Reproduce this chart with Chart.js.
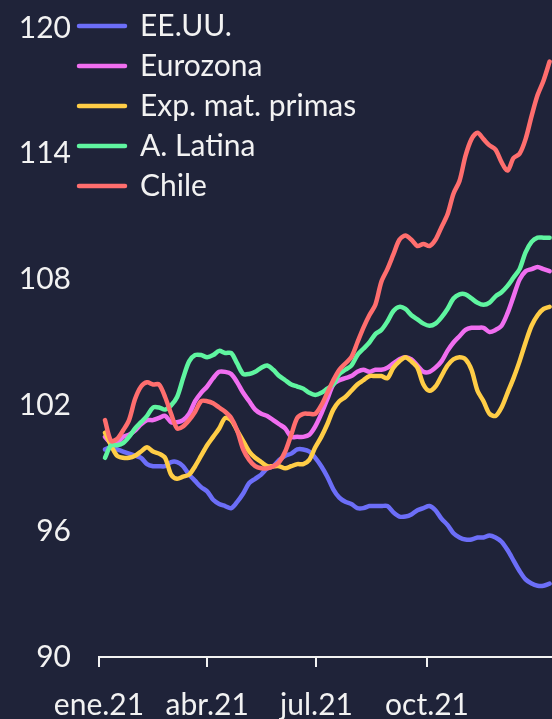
<!DOCTYPE html>
<html lang="es">
<head>
<meta charset="UTF-8">
<title>Índices de acciones</title>
<script src="https://cdn.jsdelivr.net/npm/chart.js"></script>
<style>
  html, body { margin: 0; padding: 0; background: #1f2339; }
  #wrap { width: 552px; height: 719px; }
</style>
</head>
<body>
<div id="wrap"><canvas id="grafico" width="552" height="719"></canvas></div>
<script>
// días transcurridos desde el 1 de enero de 2021
const dias = [5,10,15,20,25,30,35,40,45,50,55,60,65,70,75,80,85,90,95,100,
  105,110,115,120,125,130,135,140,145,150,155,160,165,170,175,180,185,190,195,200,
  205,210,215,220,225,230,235,240,245,250,255,260,265,270,275,280,285,290,295,300,
  305,310,315,320,325,330,335,340,345,350,355,360,365,370,375];

const eeuu = [99.9,100.0,99.9,99.8,99.7,99.6,99.5,99.2,99.1,99.1,
  99.1,99.3,99.3,99.1,98.7,98.4,98.1,97.9,97.5,97.3,
  97.2,97.1,97.4,97.8,98.3,98.5,98.7,99.0,99.1,99.4,
  99.6,99.7,99.9,99.9,99.8,99.5,99.1,98.6,98.0,97.6,
  97.4,97.3,97.1,97.1,97.2,97.2,97.2,97.2,96.9,96.7,
  96.7,96.8,97.0,97.1,97.2,97.0,96.6,96.3,95.9,95.7,
  95.6,95.6,95.7,95.7,95.8,95.7,95.5,95.1,94.6,94.1,
  93.7,93.5,93.4,93.4,93.5];

const eurozona = [100.5,100.2,100.2,100.5,100.6,100.8,101.1,101.3,101.3,101.4,
  101.5,101.2,101.2,101.3,101.6,102.2,102.6,102.9,103.3,103.6,
  103.6,103.5,103.1,102.6,102.2,101.8,101.6,101.5,101.3,101.1,
  100.9,100.5,100.5,100.5,100.6,101.0,101.6,102.3,103.0,103.2,
  103.3,103.4,103.6,103.7,103.6,103.7,103.7,103.8,104.0,104.2,
  104.3,104.2,103.9,103.6,103.6,103.8,104.1,104.6,105.0,105.3,
  105.6,105.7,105.7,105.7,105.5,105.6,105.8,106.4,107.2,108.0,
  108.4,108.5,108.6,108.5,108.4];

const matPrimas = [100.7,100.1,99.6,99.5,99.5,99.6,99.8,100.0,99.8,99.7,
  99.5,98.7,98.5,98.6,98.7,99.1,99.6,100.1,100.5,100.9,
  101.4,101.3,100.8,100.3,99.8,99.5,99.3,99.1,99.1,99.1,
  99.0,99.1,99.2,99.2,99.4,100.0,100.5,101.1,101.8,102.2,
  102.4,102.7,103.0,103.2,103.4,103.4,103.4,103.3,103.8,104.1,
  104.3,104.1,103.8,103.0,102.7,102.9,103.4,103.9,104.2,104.3,
  104.2,103.7,102.7,102.2,101.6,101.5,101.9,102.6,103.3,104.1,
  105.0,105.8,106.3,106.6,106.7];

const latina = [99.5,100.1,100.1,100.2,100.5,100.9,101.2,101.5,101.9,101.9,
  101.8,102.0,102.4,103.3,104.1,104.4,104.4,104.3,104.4,104.6,
  104.5,104.5,104.0,103.5,103.5,103.6,103.8,103.9,103.7,103.4,
  103.2,103.0,102.9,102.8,102.6,102.5,102.6,102.8,103.0,103.5,
  103.7,103.9,104.4,104.7,105.0,105.4,105.6,106.0,106.5,106.7,
  106.6,106.3,106.1,105.9,105.8,105.9,106.2,106.6,107.1,107.3,
  107.3,107.1,106.9,106.8,106.9,107.2,107.4,107.7,108.1,108.5,
  109.3,109.8,110.0,110.0,110.0];

const chile = [101.3,100.3,100.4,100.8,101.3,102.3,102.9,103.1,103.0,103.0,
  102.4,101.6,100.9,101.0,101.3,101.7,102.2,102.2,102.1,101.9,
  101.7,101.4,100.8,99.9,99.4,99.1,99.0,99.0,99.1,99.3,
  99.8,100.6,101.4,101.6,101.6,101.6,102.0,102.6,103.2,103.7,
  104.0,104.3,105.0,105.7,106.3,106.8,107.9,108.5,109.2,109.9,
  110.1,109.9,109.6,109.7,109.6,109.9,110.5,111.1,112.1,112.7,
  113.9,114.7,115.0,114.7,114.4,114.2,113.6,113.2,113.8,114.0,
  114.7,115.8,116.8,117.5,118.4];

const tickDias = [0, 90, 181, 273];
const tickEtiquetas = ['ene.21', 'abr.21', 'jul.21', 'oct.21'];

const puntos = serie => dias.map((d, i) => ({ x: d, y: serie[i] }));

Chart.defaults.font.family = 'Lato';
Chart.defaults.font.size = 30;
Chart.defaults.color = '#f2f2f2';

// la leyenda va encima del área del gráfico, algo a la izquierda
const moverLeyenda = {
  id: 'moverLeyenda',
  afterLayout(chart) {
    chart.legend.left = 69;
    chart.legend.top = 1;
  }
};

new Chart(document.getElementById('grafico'), {
  type: 'line',
  data: {
    datasets: [
      { label: 'EE.UU.', data: puntos(eeuu), borderColor: '#6c6ef8', backgroundColor: '#6c6ef8', order: 4 },
      { label: 'Eurozona', data: puntos(eurozona), borderColor: '#f06ef0', backgroundColor: '#f06ef0', order: 3 },
      { label: 'Exp. mat. primas', data: puntos(matPrimas), borderColor: '#ffcd46', backgroundColor: '#ffcd46', order: 2 },
      { label: 'A. Latina', data: puntos(latina), borderColor: '#5ff5a0', backgroundColor: '#5ff5a0', order: 1 },
      { label: 'Chile', data: puntos(chile), borderColor: '#ff6e6e', backgroundColor: '#ff6e6e', order: 0 }
    ]
  },
  options: {
    responsive: false,
    animation: false,
    devicePixelRatio: 1,
    layout: { padding: { top: 28, right: 0, bottom: 0, left: 0 } },
    elements: {
      point: { radius: 0 },
      line: { borderWidth: 4.5, tension: 0.3, borderCapStyle: 'round', borderJoinStyle: 'round' }
    },
    plugins: {
      tooltip: { enabled: false },
      legend: {
        position: 'chartArea',
        align: 'start',
        labels: {
          usePointStyle: true,
          pointStyle: 'line',
          pointStyleWidth: 46,
          padding: 10,
          generateLabels: chart => Chart.defaults.plugins.legend.labels.generateLabels(chart)
            .map(it => ({ ...it, lineWidth: 4.5, lineCap: 'round' })),
          sort: (a, b) => a.datasetIndex - b.datasetIndex
        }
      }
    },
    scales: {
      x: {
        type: 'linear',
        min: 0,
        max: 377,
        afterBuildTicks: s => { s.ticks = tickDias.map(v => ({ value: v })); },
        afterFit: s => { s.height = 62; },
        grid: { display: true, drawOnChartArea: false, drawTicks: true, tickLength: 10, color: '#f2f2f2', lineWidth: 2 },
        border: { display: true, color: '#f2f2f2', width: 2 },
        ticks: { padding: 20, maxRotation: 0, autoSkip: false, callback: (v, i) => tickEtiquetas[i] }
      },
      y: {
        min: 90,
        max: 120,
        afterFit: s => { s.width = 99; s.paddingTop = 0; s.paddingBottom = 0; },
        grid: { display: false, drawTicks: false },
        border: { display: false },
        ticks: { stepSize: 6, padding: 28 }
      }
    }
  },
  plugins: [moverLeyenda]
});
</script>
</body>
</html>
